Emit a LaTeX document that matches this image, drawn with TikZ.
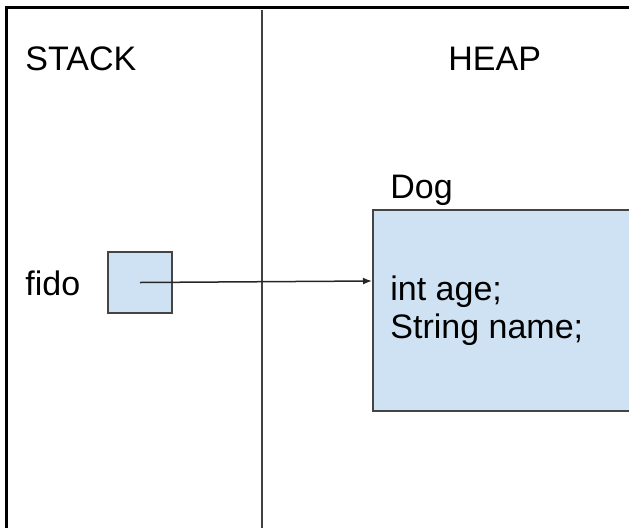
\documentclass[tikz,border=0pt]{standalone}
\usepackage{fontspec}
\setmainfont{Liberation Sans}
\usetikzlibrary{arrows.meta}

\definecolor{boxfill}{RGB}{207,226,243}
\definecolor{boxline}{RGB}{68,68,68}

\begin{document}
\begin{tikzpicture}[x=0.5pt,y=-0.5pt,>={Latex[length=4.5pt,width=3.5pt]},
			label node/.style={inner sep=0pt,anchor=base west,
				font=\fontsize{17}{18.75}\selectfont},
			var node/.style={rectangle,fill=boxfill,draw=boxline,line width=1pt,
				minimum width=32pt,minimum height=30.5pt,inner sep=0pt},
			obj node/.style={rectangle,fill=boxfill,draw=boxline,line width=1pt,
				minimum width=150pt,minimum height=100.5pt,inner sep=0pt,anchor=north west}
			]
			\useasboundingbox (0,0) rectangle (629,527);
			\clip (0,0) rectangle (629,527);
			
			% frame and the split between both memory areas
			\draw[line width=1.5pt] (7,540) -- (7,7) -- (650,7);
			\draw[line width=1pt,black!75] (262,10) -- (262,540);
			
			\node[label node] (STK) at (25,70) {STACK};
			\node[label node] (HP) at (448,70) {HEAP};
			
			\node[label node] (FIDO) at (25,295) {fido};
			\node[var node] (REF) at (140,282.5) {};
			
			\node[label node] (DOGT) at (390,198) {Dog};
			\node[obj node] (DOG) at (372,209) {};
			% base of a two-line node sits on its last line
			\node[label node,align=left] (FLD) at (390,338) {int age;\\String name;};
			
			\coordinate (SLOT) at (DOG.north west |- 0,281);
			%	\draw[->] (REF.center) -- (DOG.west);
			\draw[->,line width=0.75pt,black!85] (REF.center) -- (SLOT);
			
		\end{tikzpicture}
\end{document}
